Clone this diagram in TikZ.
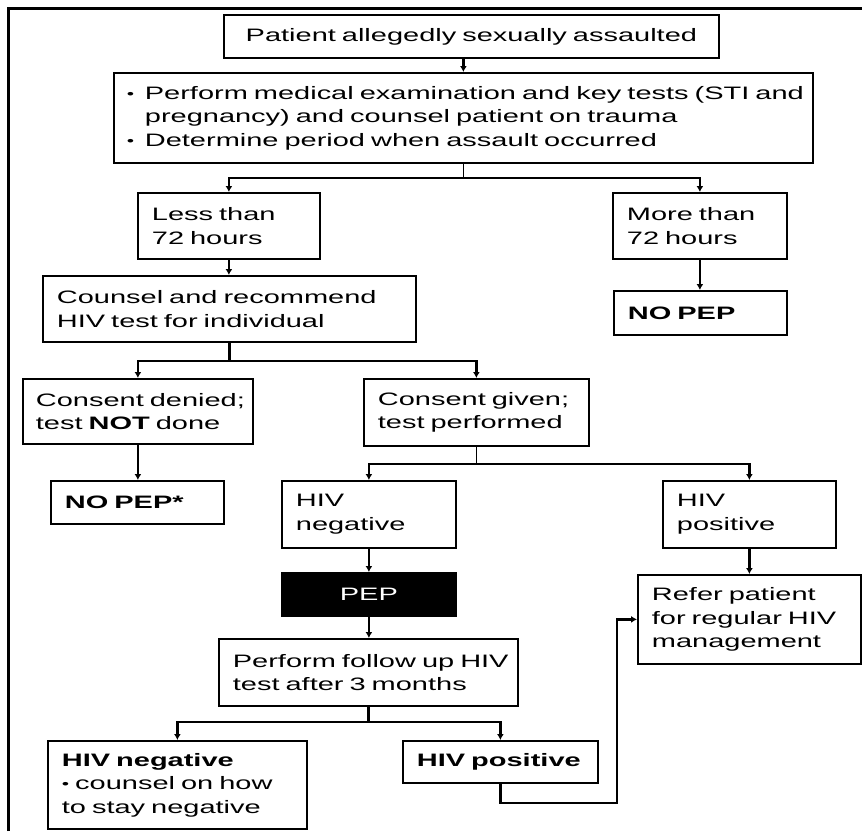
\documentclass[tikz,border=0pt]{standalone}
\usepackage{fontspec}
\setmainfont[FakeStretch=1.61]{Liberation Sans}
\usetikzlibrary{arrows.meta}
\newcommand{\bul}{{\fontsize{13}{13}\selectfont\raisebox{1pt}{•}}}
\begin{document}
\begin{tikzpicture}[x=1pt,y=-1pt,
  box/.style={draw, line width=1.8pt, anchor=north west, inner xsep=14pt, inner ysep=0pt, align=left,
    font=\fontsize{18}{23.5}\selectfont},
  conn/.style={line width=2.2pt},
  thinconn/.style={line width=1.2pt},
  arr/.style={conn, -{Latex[length=6pt,width=7pt]}},
]
\useasboundingbox (0,0) rectangle (862,831);
% frame
\draw[line width=3pt] (8,831) -- (8,8) -- (862,8);

\node[box, align=center, text width=467pt, minimum width=495pt, minimum height=43pt] (top) at (223,14)
  {\mbox{Patient allegedly sexually assaulted}};
\node[box, inner xsep=13pt, text width=673pt, minimum width=699pt, minimum height=90pt] (big) at (113,72)
  {\mbox{\makebox[18pt][l]{\bul}Perform medical examination and key tests (STI and}\\
   \mbox{\hspace*{18pt}pregnancy) and counsel patient on trauma}\\
   \mbox{\makebox[18pt][l]{\bul}Determine period when assault occurred}};
\node[box, text width=154pt, minimum width=182pt, minimum height=66pt] (less) at (137,192)
  {\mbox{Less than}\\\mbox{72 hours}};
\node[box, text width=146pt, minimum width=174pt, minimum height=66pt] (more) at (612,192)
  {\mbox{More than}\\\mbox{72 hours}};
\node[box, text width=145pt, minimum width=173pt, minimum height=44pt] (nopep) at (613,290)
  {\textbf{NO PEP}};
\node[box, text width=345pt, minimum width=373pt, minimum height=66pt] (counsel) at (42,275)
  {\mbox{Counsel and recommend}\\\mbox{HIV test for individual}};
\node[box, inner xsep=13pt, text width=204pt, minimum width=230pt, minimum height=65pt] (denied) at (22,378)
  {\mbox{Consent denied;}\\\mbox{test \textbf{NOT} done}};
\node[box, text width=197pt, minimum width=225pt, minimum height=67pt] (given) at (363,378)
  {\mbox{Consent given;}\\\mbox{test performed}};
\node[box, text width=145pt, minimum width=173pt, minimum height=43pt] (nopepb) at (50,480)
  {\textbf{NO PEP*}};
\node[box, text width=146pt, minimum width=174pt, minimum height=67pt] (hivneg) at (281,480)
  {HIV\\negative};
\node[box, text width=145pt, minimum width=173pt, minimum height=67pt] (hivpos) at (662,480)
  {HIV\\positive};
\node[box, fill=black, text=white, align=center, text width=146pt, minimum width=174pt, minimum height=43pt] (pep) at (281,572)
  {PEP};
\node[box, text width=195pt, minimum width=223pt, minimum height=89pt] (refer) at (637,574)
  {\mbox{Refer patient}\\\mbox{for regular HIV}\\\mbox{management}};
\node[box, text width=271pt, minimum width=299pt, minimum height=67pt] (perform) at (218,638)
  {\mbox{Perform follow up HIV}\\\mbox{test after 3 months}};
\node[box, text width=231pt, minimum width=259pt, minimum height=88pt] (negb) at (47,740)
  {\mbox{\textbf{HIV negative}}\\\mbox{\bul\ counsel on how}\\\mbox{to stay negative}};
\node[box, text width=167pt, minimum width=195pt, minimum height=42pt] (posb) at (402,740)
  {\mbox{\textbf{HIV positive}}};

% connectors
\draw[arr] (big.north |- top.south) -- (big.north);
\draw[thinconn] (big.south) -- ++(0,14) coordinate (j1);
\draw[arr] (j1) -| (less.north);
\draw[arr] (j1) -| (more.north);
\draw[arr] (less.south) -- (less.south |- counsel.north);
\draw[arr] (more.south) -- (more.south |- nopep.north);
\draw[conn] (counsel.south) -- ++(0,18) coordinate (j2);
\draw[arr] (j2) -| (denied.north);
\draw[arr] (j2) -| (given.north);
\draw[arr] (denied.south) -- (denied.south |- nopepb.north);
\draw[thinconn] (given.south) -- ++(0,17) coordinate (j3);
\draw[arr] (j3) -| (hivneg.north);
\draw[arr] (j3) -| (hivpos.north);
\draw[arr] (hivneg.south) -- (pep.north);
\draw[arr] (hivpos.south) -- (hivpos.south |- refer.north);
\draw[arr] (pep.south) -- (pep.south |- perform.north);
\draw[conn] (perform.south) -- ++(0,15) coordinate (j4);
\draw[arr] (j4) -| (negb.north);
\draw[arr] (j4) -| (posb.north);
\coordinate (fb) at (617,803);
\draw[arr] (posb.south) |- (fb) |- (refer.west);
\end{tikzpicture}
\end{document}
